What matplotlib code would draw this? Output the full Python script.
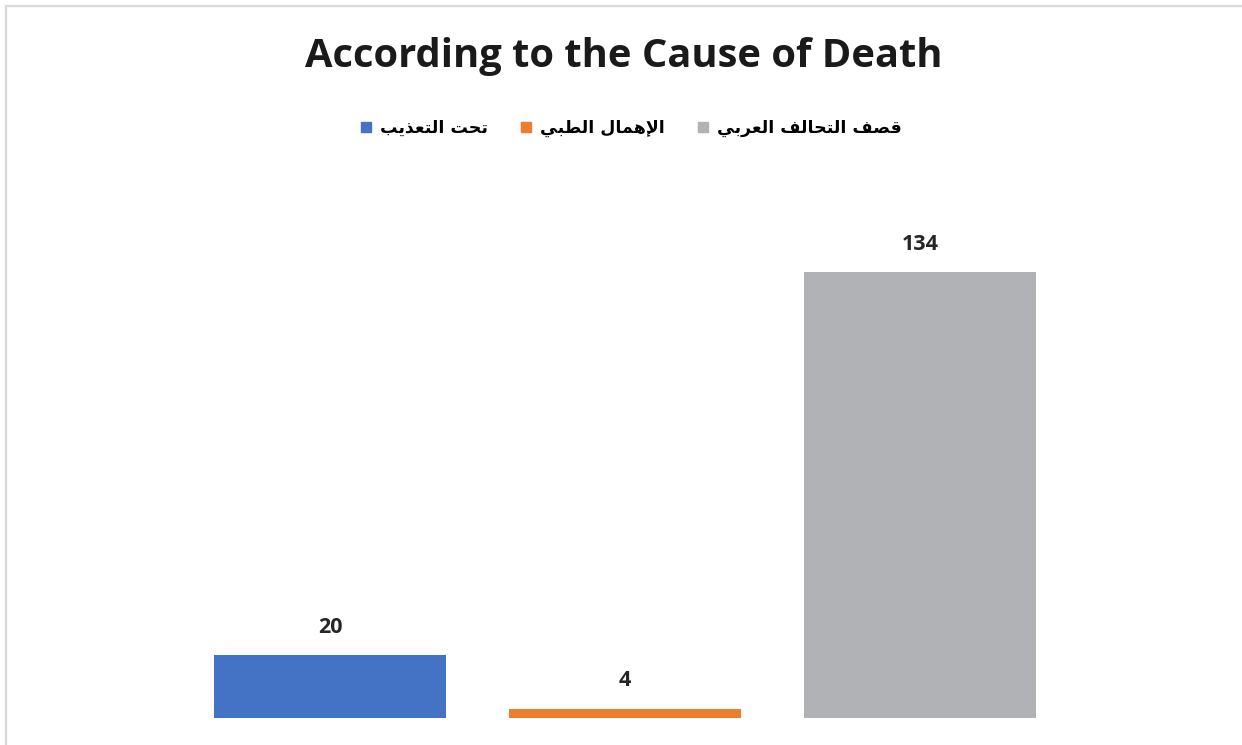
import matplotlib
matplotlib.use("Agg")
import matplotlib.pyplot as plt
from matplotlib.lines import Line2D
from matplotlib.patches import Rectangle

# ---- data ----
categories = ["تحت التعذيب", "الإهمال الطبي", "قصف التحالف العربي"]
values = [20, 4, 134]
colors = ["#4472C4", "#ED7D31", "#B1B2B6"]
title = "According to the Cause of Death"

# ---- minimal Arabic shaping (presentation forms + visual order) ----
FORMS = {
    '\u0627': ('\uFE8D', '\uFE8E', None, None),
    '\u0625': ('\uFE87', '\uFE88', None, None),
    '\u0628': ('\uFE8F', '\uFE90', '\uFE91', '\uFE92'),
    '\u062A': ('\uFE95', '\uFE96', '\uFE97', '\uFE98'),
    '\u062D': ('\uFEA1', '\uFEA2', '\uFEA3', '\uFEA4'),
    '\u0630': ('\uFEAB', '\uFEAC', None, None),
    '\u0631': ('\uFEAD', '\uFEAE', None, None),
    '\u0635': ('\uFEB9', '\uFEBA', '\uFEBB', '\uFEBC'),
    '\u0637': ('\uFEC1', '\uFEC2', '\uFEC3', '\uFEC4'),
    '\u0639': ('\uFEC9', '\uFECA', '\uFECB', '\uFECC'),
    '\u0641': ('\uFED1', '\uFED2', '\uFED3', '\uFED4'),
    '\u0642': ('\uFED5', '\uFED6', '\uFED7', '\uFED8'),
    '\u0644': ('\uFEDD', '\uFEDE', '\uFEDF', '\uFEE0'),
    '\u0645': ('\uFEE1', '\uFEE2', '\uFEE3', '\uFEE4'),
    '\u0647': ('\uFEE9', '\uFEEA', '\uFEEB', '\uFEEC'),
    '\u064A': ('\uFEF1', '\uFEF2', '\uFEF3', '\uFEF4'),
}
LAM_ALEF = {'\u0627': ('\uFEFB', '\uFEFC'), '\u0625': ('\uFEF9', '\uFEFA')}


def _dual(c):
    return c in FORMS and FORMS[c][2] is not None


def shape(s):
    ch = list(s)
    n = len(ch)
    res = []
    i = 0
    while i < n:
        c = ch[i]
        if c not in FORMS:
            res.append(c)
            i += 1
            continue
        prev = ch[i - 1] if i > 0 else None
        jp = prev is not None and _dual(prev)
        if c == '\u0644' and i + 1 < n and ch[i + 1] in LAM_ALEF:
            lig = LAM_ALEF[ch[i + 1]]
            res.append(lig[1] if jp else lig[0])
            i += 2
            continue
        nxt = ch[i + 1] if i + 1 < n else None
        jn = _dual(c) and nxt in FORMS
        iso, fin, ini, med = FORMS[c]
        if jp and jn:
            g = med
        elif jp:
            g = fin
        elif jn:
            g = ini
        else:
            g = iso
        res.append(g)
        i += 1
    return ''.join(reversed(res))


W, H = 1242, 745
fig = plt.figure(figsize=(W / 100, H / 100), dpi=100)

# chart border (cut at right/bottom)
fig.patches.append(Rectangle((6 / W, -0.05), 1.2, 1 - 6 / H + 0.05,
                             transform=fig.transFigure, fill=False,
                             edgecolor="#D9D9D9", linewidth=1.6))

ax = fig.add_axes([182.5 / W, (H - 718) / H, 885 / W, (718 - 185) / H])
x = list(range(len(values)))
bars = ax.bar(x, values, width=0.786, color=colors)
ax.set_xlim(-0.5, len(values) - 0.5)
ax.set_ylim(1.25, 160)
ax.axis("off")

for b, v in zip(bars, values):
    ax.annotate(f"{v}", (b.get_x() + b.get_width() / 2, b.get_height()),
                xytext=(0, 20), textcoords="offset points",
                ha="center", va="center", fontsize=15.5, fontweight="bold",
                family=["Open Sans", "DejaVu Sans"], color="#262626")

fig.text(624 / W, 1 - 57 / H, title, ha="center", va="center",
         fontsize=28.7, fontweight="bold", family=["Open Sans", "DejaVu Sans"],
         color="#1a1a1a")

handles = [Line2D([], [], marker="s", linestyle="none", markersize=7,
                  markerfacecolor=c, markeredgecolor=c) for c in colors]
leg = fig.legend(handles, [shape(c) for c in categories], ncol=3,
                 loc="center", bbox_to_anchor=(630.5 / W, 1 - 128 / H),
                 frameon=False, handlelength=0.8, handletextpad=0.4,
                 columnspacing=1.8,
                 prop={"family": ["DejaVu Sans"], "weight": "bold", "size": 12.5})

fig.savefig("out.png", dpi=100, facecolor="white")
